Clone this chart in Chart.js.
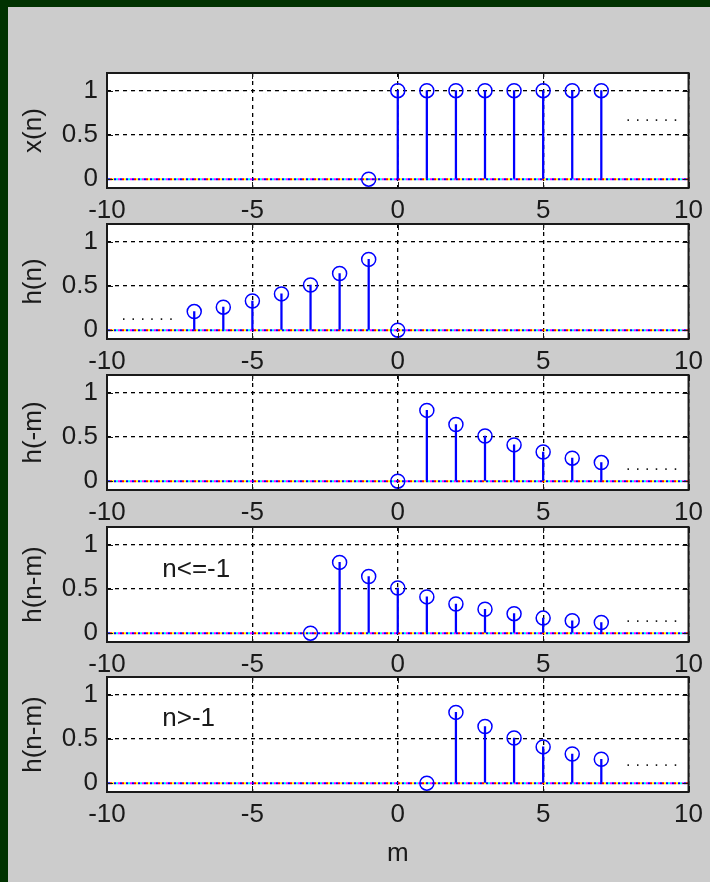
<!DOCTYPE html>
<html>
<head>
<meta charset="utf-8">
<script src="https://cdn.jsdelivr.net/npm/chart.js@4.4.0/dist/chart.umd.min.js"></script>
<style>
  html, body { margin: 0; padding: 0; }
  #fig { position: relative; width: 710px; height: 882px; background: #cccccc; overflow: hidden; }
  #topband { position: absolute; left: 0; top: 0; width: 710px; height: 7px; background: #003200; }
  #leftband { position: absolute; left: 0; top: 0; width: 8px; height: 882px; background: #003200; }
  canvas { position: absolute; left: 0; }
</style>
</head>
<body>
<div id="fig">
  <div id="topband"></div>
  <div id="leftband"></div>
  <canvas id="p0"></canvas>
  <canvas id="p1"></canvas>
  <canvas id="p2"></canvas>
  <canvas id="p3"></canvas>
  <canvas id="p4"></canvas>
</div>
<script>
// axes
const xTickValues = [-10, -5, 0, 5, 10];
const yTickValues = [0, 0.5, 1];
const panelLabels = ['x(n)', 'h(n)', 'h(-m)', 'h(n-m)', 'h(n-m)'];

// x(n)
const xn_m = [-1, 0, 1, 2, 3, 4, 5, 6, 7];
const xn_v = [0, 1, 1, 1, 1, 1, 1, 1, 1];
// h(n)
const hn_m = [-7, -6, -5, -4, -3, -2, -1, 0];
const hn_v = [0.21, 0.26, 0.33, 0.41, 0.51, 0.64, 0.80, 0];
// h(-m)
const hneg_m = [0, 1, 2, 3, 4, 5, 6, 7];
const hneg_v = [0, 0.80, 0.64, 0.51, 0.41, 0.33, 0.26, 0.21];
// h(n-m), n<=-1
const hA_m = [-3, -2, -1, 0, 1, 2, 3, 4, 5, 6, 7];
const hA_v = [0, 0.80, 0.64, 0.51, 0.41, 0.33, 0.27, 0.22, 0.17, 0.14, 0.12];
// h(n-m), n>-1
const hB_m = [1, 2, 3, 4, 5, 6, 7];
const hB_v = [0, 0.80, 0.64, 0.51, 0.41, 0.33, 0.27];

// notes in data units
const caseText = ['', '', '', 'n<=-1', 'n>-1'];
const caseAt = [null, null, null, [-8.1, 0.72], [-8.1, 0.73]];
const dotsAt = [[7.85, 0.67], [-9.5, 0.13], [7.85, 0.14], [7.85, 0.14], [7.85, 0.2]];

const panelM = [xn_m, hn_m, hneg_m, hA_m, hB_m];
const panelV = [xn_v, hn_v, hneg_v, hA_v, hB_v];

const plotTops = [73, 224, 375, 527, 677];
const PAD_TOP = 30;
const FONT = '"Liberation Sans", Arial, sans-serif';
const TXT = '#1a1a1a';
const BLUE = '#0000ff';

function baselinePattern() {
  let c = document.createElement('canvas');
  c.width = 12; c.height = 2;
  let g = c.getContext('2d');
  ['#0000ff', '#ff0000', '#ffff00', '#0000ff', '#00ffff', '#ff00ff'].forEach((col, k) => {
    g.fillStyle = col;
    g.fillRect(k * 2, 0, 2, 2);
  });
  return g.createPattern(c, 'repeat');
}

const panelDecor = {
  id: 'panelDecor',
  beforeDraw(chart) {
    let {ctx, chartArea: a} = chart;
    ctx.save();
    ctx.fillStyle = '#ffffff';
    ctx.fillRect(a.left, a.top, a.right - a.left, a.bottom - a.top);
    ctx.restore();
  },
  afterDraw(chart, args, opts) {
    let {ctx, chartArea: a} = chart;
    let x = chart.scales.x, y = chart.scales.y;
    ctx.save();
    ctx.strokeStyle = TXT;
    ctx.lineWidth = 1;
    ctx.beginPath();
    xTickValues.forEach(v => {
      let px = Math.round(x.getPixelForValue(v)) + 0.5;
      ctx.moveTo(px, a.bottom); ctx.lineTo(px, a.bottom - 6);
      ctx.moveTo(px, a.top); ctx.lineTo(px, a.top + 6);
    });
    yTickValues.forEach(v => {
      let py = Math.round(y.getPixelForValue(v)) + 0.5;
      ctx.moveTo(a.left, py); ctx.lineTo(a.left + 6, py);
      ctx.moveTo(a.right, py); ctx.lineTo(a.right - 6, py);
    });
    ctx.stroke();
    ctx.lineWidth = 2;
    ctx.strokeRect(a.left, a.top, a.right - a.left, a.bottom - a.top);

    ctx.fillStyle = TXT;
    if (opts.dots) {
      ctx.font = '16px ' + FONT;
      ctx.letterSpacing = '5px';
      ctx.textAlign = 'left';
      ctx.textBaseline = 'alphabetic';
      ctx.fillText('......', x.getPixelForValue(opts.dots[0]), y.getPixelForValue(opts.dots[1]) + 1);
      ctx.letterSpacing = '0px';
    }
    if (opts.text) {
      ctx.font = '26px ' + FONT;
      ctx.textAlign = 'left';
      ctx.textBaseline = 'middle';
      ctx.fillText(opts.text, x.getPixelForValue(opts.at[0]), y.getPixelForValue(opts.at[1]));
    }
    ctx.restore();
  }
};

function makePanel(i) {
  let last = i === 4;
  let cv = document.getElementById('p' + i);
  let xh = last ? 90 : 40;
  let h = PAD_TOP + 115 + xh;
  cv.width = 710; cv.height = h;
  cv.style.top = (plotTops[i] - PAD_TOP) + 'px';
  cv.style.width = '710px'; cv.style.height = h + 'px';

  let pts = panelM[i].map((m, k) => ({x: m, y: panelV[i][k]}));

  return new Chart(cv.getContext('2d'), {
    type: 'bar',
    data: {
      datasets: [
        {
          type: 'line',
          data: [{x: -10, y: 0}, {x: 10, y: 0}],
          borderColor: baselinePattern(),
          borderWidth: 2,
          pointRadius: 0,
          order: 3
        },
        {
          type: 'bar',
          data: pts,
          backgroundColor: BLUE,
          barThickness: 1.6,
          order: 2
        },
        {
          type: 'line',
          data: pts,
          showLine: false,
          pointStyle: 'circle',
          pointRadius: 7,
          pointBorderWidth: 1.5,
          pointBorderColor: BLUE,
          pointBackgroundColor: 'rgba(0,0,0,0)',
          order: 1
        }
      ]
    },
    options: {
      responsive: false,
      animation: false,
      layout: {padding: {left: 0, right: 21, top: PAD_TOP, bottom: 0}},
      plugins: {
        legend: {display: false},
        tooltip: {enabled: false},
        panelDecor: {
          dots: dotsAt[i],
          text: caseText[i],
          at: caseAt[i]
        }
      },
      scales: {
        x: {
          type: 'linear',
          min: -10, max: 10,
          offset: false,
          afterBuildTicks: s => { s.ticks = xTickValues.map(v => ({value: v})); },
          afterFit: s => { s.height = xh; },
          grid: {color: '#000', lineWidth: 1.3, drawTicks: false, offset: false},
          border: {display: false, dash: [4, 4]},
          ticks: {
            padding: 7, color: TXT, maxRotation: 0, autoSkip: false,
            font: {family: FONT, size: 26},
            callback: v => String(v)
          },
          title: {
            display: last, text: 'm', color: TXT,
            font: {family: FONT, size: 26},
            padding: {top: 0, bottom: 13}
          }
        },
        y: {
          min: -0.1, max: 1.2,
          afterBuildTicks: s => { s.ticks = yTickValues.map(v => ({value: v})); },
          afterFit: s => { s.width = 107; },
          grid: {
            color: c => (c.tick && c.tick.value === 0) ? 'rgba(0,0,0,0)' : '#000',
            lineWidth: 1.3, drawTicks: false
          },
          border: {display: false, dash: [4, 4]},
          ticks: {
            padding: 9, color: TXT,
            font: {family: FONT, size: 26},
            callback: v => String(v)
          },
          title: {
            display: true, text: panelLabels[i], color: TXT,
            font: {family: FONT, size: 26},
            padding: {top: 18, bottom: 0}
          }
        }
      }
    },
    plugins: [panelDecor]
  });
}

for (let i = 0; i < 5; i++) makePanel(i);
</script>
</body>
</html>
